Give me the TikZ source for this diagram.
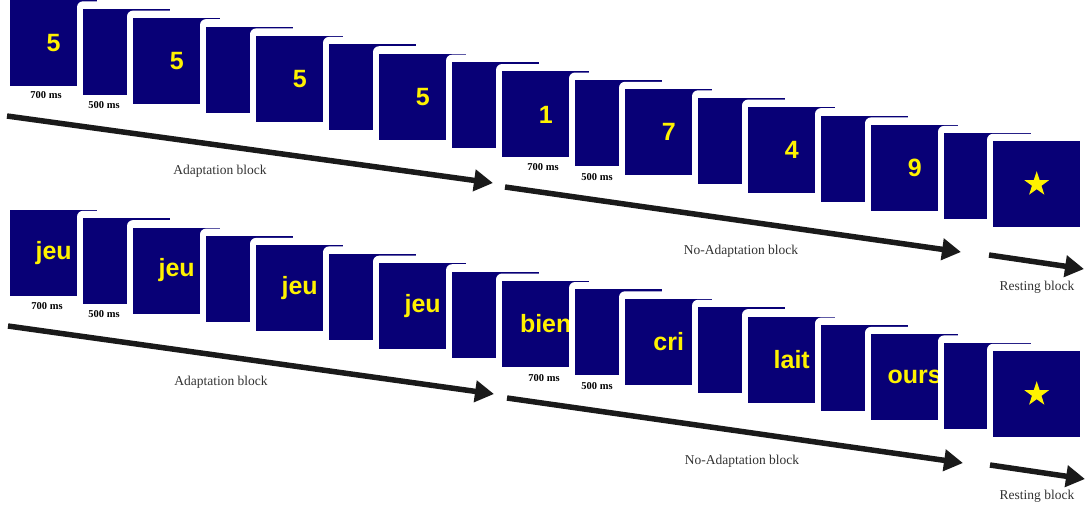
\documentclass[tikz,border=0pt]{standalone}
\usepackage{fontspec}
\setmainfont{Liberation Serif}
\newfontfamily\stimfont{Liberation Sans}
\usetikzlibrary{arrows.meta,shapes.geometric,calc}
\definecolor{navy}{RGB}{8,0,118}
\definecolor{arrowcol}{RGB}{26,26,26}
\definecolor{labcol}{RGB}{50,50,50}
\tikzset{
  cardbox/.style={anchor=north west, fill=navy, minimum width=87pt, minimum height=86pt,
    inner sep=0pt, text=yellow, font=\stimfont\bfseries\fontsize{25}{25}\selectfont},
  backing/.style={fill=white, rounded corners=6pt},
  timelab/.style={font=\bfseries\fontsize{10.5}{11}\selectfont, text=black, inner sep=0pt},
  blocklab/.style={font=\fontsize{13.5}{14}\selectfont, text=labcol, inner sep=0pt},
  bigarrow/.style={draw=arrowcol, line width=5.5pt, -{Triangle[length=19pt,width=21pt]}},
  starmark/.style={star, star points=5, star point ratio=2.6, fill=yellow, draw=none,
    minimum size=26pt, inner sep=0pt}
}
\newcommand\mycard[4]{%
  \fill[backing] ({#2-6},{#3-7.2}) rectangle ({#2+93},{#3+92});
  \node[cardbox] (#1) at (#2,#3) {#4};}
\begin{document}
\begin{tikzpicture}[x=1pt,y=-1pt]
\useasboundingbox (0,0) rectangle (1091,517);
% ---------- top row ----------
\foreach \i/\lab in {0/5,1/5,2/5,3/5,4/1,5/7,6/4,7/9}{
  \pgfmathsetmacro\xs{10+123*\i}
  \pgfmathsetmacro\ys{17.8*\i}
  \pgfmathsetmacro\xb{\xs+73}
  \pgfmathsetmacro\yb{\ys+8.5}
  \mycard{ts\i}{\xs}{\ys}{\lab}
  \mycard{tb\i}{\xb}{\yb}{}
}
\mycard{tstar}{993}{141}{}
\node[starmark] (tstarm) at (tstar.center) {};
% ---------- bottom row ----------
\foreach \i/\lab in {0/jeu,1/jeu,2/jeu,3/jeu,4/bien,5/cri,6/lait,7/ours}{
  \pgfmathsetmacro\xs{10+123*\i}
  \pgfmathsetmacro\ys{209.5+17.8*\i}
  \pgfmathsetmacro\xb{\xs+73}
  \pgfmathsetmacro\yb{\ys+8.5}
  \mycard{bs\i}{\xs}{\ys}{\lab}
  \mycard{bb\i}{\xb}{\yb}{}
}
\mycard{bstar}{993}{351}{}
\node[starmark] (bstarm) at (bstar.center) {};
% ---------- time labels ----------
\node[timelab] (t700a) at (46,95) {700 ms};
\node[timelab] (t500a) at (104,105) {500 ms};
\node[timelab] (t700b) at (543,167) {700 ms};
\node[timelab] (t500b) at (597,177) {500 ms};
\node[timelab] (b700a) at (47,306) {700 ms};
\node[timelab] (b500a) at (104,314) {500 ms};
\node[timelab] (b700b) at (544,378) {700 ms};
\node[timelab] (b500b) at (597,386) {500 ms};
% ---------- arrows ----------
\coordinate (ta1s) at (7,116);   \coordinate (ta1e) at (493,183);
\coordinate (ta2s) at (505,187); \coordinate (ta2e) at (961,252);
\coordinate (ta3s) at (989,255); \coordinate (ta3e) at (1084,269);
\coordinate (ba1s) at (8,326);   \coordinate (ba1e) at (494,394);
\coordinate (ba2s) at (507,398); \coordinate (ba2e) at (963,463);
\coordinate (ba3s) at (990,465); \coordinate (ba3e) at (1085,479);
\draw[bigarrow] (ta1s) -- (ta1e);
\draw[bigarrow] (ta2s) -- (ta2e);
\draw[bigarrow] (ta3s) -- (ta3e);
\draw[bigarrow] (ba1s) -- (ba1e);
\draw[bigarrow] (ba2s) -- (ba2e);
\draw[bigarrow] (ba3s) -- (ba3e);
% ---------- block labels ----------
\node[blocklab] (tl1) at (220,171) {Adaptation block};
\node[blocklab] (tl2) at (741,251) {No-Adaptation block};
\node[blocklab] (tl3) at (1037,287) {Resting block};
\node[blocklab] (bl1) at (221,382) {Adaptation block};
\node[blocklab] (bl2) at (742,461) {No-Adaptation block};
\node[blocklab] (bl3) at (1037,496) {Resting block};
\end{tikzpicture}
\end{document}
